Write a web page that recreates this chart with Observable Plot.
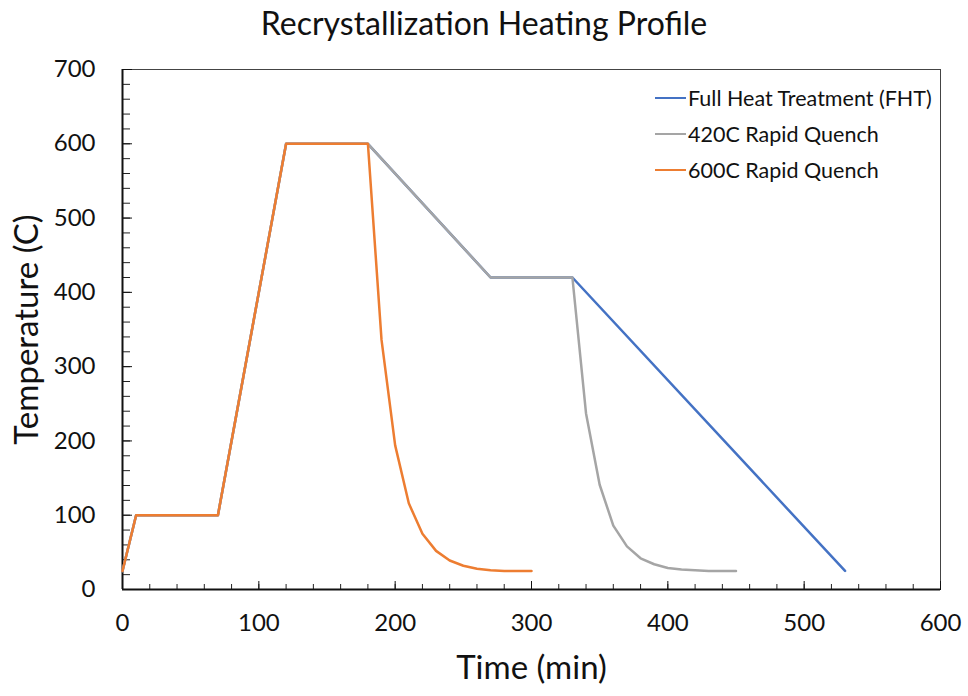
<!DOCTYPE html>
<html><head><meta charset="utf-8">
<script src="https://cdn.jsdelivr.net/npm/d3@7"></script>
<script src="https://cdn.jsdelivr.net/npm/@observablehq/plot@0.6"></script>
<style>
body{margin:0;background:#fff;font-family:Lato,"Open Sans",sans-serif;}
#wrap{position:relative;width:968px;height:696px;overflow:hidden;}
#title{height:50px;line-height:46px;text-align:center;font-size:32px;color:#111;}
#legend{position:absolute;left:655px;top:80px;font-size:21.5px;color:#111;}
.row{display:flex;align-items:center;height:36px;}
.sw{width:31px;height:0;border-top:2.5px solid;margin-right:2px;}
</style></head>
<body><div id="wrap"><div id="title">Recrystallization Heating Profile</div><div id="chart"></div><div id="legend"></div></div>
<script>
const seriesNames = ["Full Heat Treatment (FHT)", "420C Rapid Quench", "600C Rapid Quench"];
const seriesColors = ["#4472C4", "#A5A5A5", "#ED7D31"];
const fhtTime = [0, 10, 70, 120, 180, 270, 330, 530];
const fhtTemp = [25, 100, 100, 600, 600, 420, 420, 25];
const q420Time = [0, 10, 70, 120, 180, 270, 330, 340, 350, 360, 370, 380, 390, 400, 410, 420, 430, 440, 450];
const q420Temp = [25, 100, 100, 600, 600, 420, 420, 237, 141, 86, 58, 42, 34, 29, 27, 26, 25, 25, 25];
const q600Time = [0, 10, 70, 120, 180, 190, 200, 210, 220, 230, 240, 250, 260, 270, 280, 290, 300];
const q600Temp = [25, 100, 100, 600, 600, 336, 194, 116, 75, 52, 39, 32, 28, 26, 25, 25, 25];
const xMajor = [0, 100, 200, 300, 400, 500, 600];
const yMajor = [0, 100, 200, 300, 400, 500, 600, 700];
const xMinor = d3.range(0, 601, 20);
const yMinor = d3.range(0, 701, 20);

const series = [[fhtTime, fhtTemp], [q420Time, q420Temp], [q600Time, q600Temp]];
const rows = series.flatMap(([t, v], i) => t.map((x, j) => ({series: seriesNames[i], time: x, temp: v[j]})));

const plot = Plot.plot({
  width: 968, height: 646,
  marginLeft: 122, marginRight: 28, marginTop: 19, marginBottom: 107,
  style: {fontFamily: "Lato, 'Open Sans', sans-serif", color: "#111", background: "#fff"},
  x: {domain: [0, 600]},
  y: {domain: [0, 700]},
  color: {domain: seriesNames, range: seriesColors},
  marks: [
    Plot.frame({stroke: "#444", strokeWidth: 1}),
    Plot.axisX(xMinor, {anchor: "top", frameAnchor: "bottom", tickSize: 6, text: null, label: null, stroke: "#222"}),
    Plot.axisX(xMajor, {anchor: "top", frameAnchor: "bottom", tickSize: 9, text: null, label: null, stroke: "#111"}),
    Plot.axisY(yMinor, {anchor: "right", frameAnchor: "left", tickSize: 7, text: null, label: null, stroke: "#222"}),
    Plot.axisY(yMajor, {anchor: "right", frameAnchor: "left", tickSize: 9, text: null, label: null, stroke: "#111"}),
    Plot.axisX(xMajor, {anchor: "bottom", tickSize: 0, tickPadding: 24, fontSize: 24, label: null}),
    Plot.axisY(yMajor, {anchor: "left", tickSize: 0, tickPadding: 27, fontSize: 24, label: null}),
    Plot.ruleY([0], {stroke: "#111", strokeWidth: 2}),
    Plot.ruleX([0], {stroke: "#111", strokeWidth: 2}),
    Plot.line(rows, {x: "time", y: "temp", z: "series", stroke: "series", strokeWidth: 2.5}),
    Plot.text(["Time (min)"], {frameAnchor: "bottom", lineAnchor: "middle", dy: 79, fontSize: 33, fill: "#111"}),
    Plot.text(["Temperature (C)"], {frameAnchor: "left", textAnchor: "middle", lineAnchor: "middle", dx: -95, rotate: -90, fontSize: 33, fill: "#111"})
  ]
});
document.getElementById("chart").appendChild(plot);

const leg = document.getElementById("legend");
seriesNames.forEach((n, i) => {
  const r = document.createElement("div"); r.className = "row";
  const s = document.createElement("div"); s.className = "sw"; s.style.borderColor = seriesColors[i];
  const t = document.createElement("span"); t.textContent = n;
  r.appendChild(s); r.appendChild(t); leg.appendChild(r);
});
</script></body></html>
